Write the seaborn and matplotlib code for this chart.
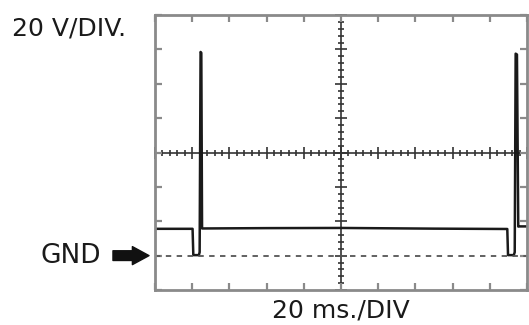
import matplotlib
matplotlib.use("Agg")
import matplotlib.pyplot as plt
from matplotlib.ticker import MultipleLocator
import seaborn as sns

# Trace (20 ms/div, 20 V/div, GND = 0 V)
time_ms = [0, 20.2, 20.6, 23.6, 24.0, 24.5, 24.9, 25.3, 60, 100, 150,
           189.4, 189.8, 192.9, 193.4, 193.9, 194.6, 195.3, 196.0, 200]
volts = [15.6, 15.6, 0.3, 0.3, 2.0, 118.5, 118.0, 15.8, 16.0, 16.1, 15.7,
         15.5, 0.3, 0.3, 2.0, 117.5, 117.0, 16.9, 17.0, 17.0]

gnd_level = 0
x_div, y_div = 20, 20
x_range = (0, 200)
y_range = (-20, 140)

sns.set_style("white")
plt.rcParams["font.family"] = ["DejaVu Sans"]

fig = plt.figure(figsize=(5.29, 3.25), dpi=100, facecolor="white")
pos = [155 / 529, 1 - 290 / 325, 372 / 529, 275 / 325]

# crosshair through the centre of the screen, with fine graduations
ax_c = fig.add_axes(pos)
ax_c.set_xlim(*x_range)
ax_c.set_ylim(*y_range)
ax_c.set_facecolor("none")
ax_c.spines["left"].set_position(("data", sum(x_range) / 2))
ax_c.spines["bottom"].set_position(("data", sum(y_range) / 2))
ax_c.spines["top"].set_visible(False)
ax_c.spines["right"].set_visible(False)
for s in ["left", "bottom"]:
    ax_c.spines[s].set_color("#333333")
    ax_c.spines[s].set_linewidth(1.2)
ax_c.xaxis.set_major_locator(MultipleLocator(x_div))
ax_c.xaxis.set_minor_locator(MultipleLocator(x_div / 5))
ax_c.yaxis.set_major_locator(MultipleLocator(y_div))
ax_c.yaxis.set_minor_locator(MultipleLocator(y_div / 5))
ax_c.tick_params(which="both", bottom=True, left=True, top=False, right=False,
                 labelbottom=False, labelleft=False)
ax_c.tick_params(which="major", direction="inout", length=9, width=1.2,
                 color="#333333")
ax_c.tick_params(which="minor", direction="inout", length=5, width=1.2,
                 color="#333333")

# main screen: frame, border ticks, GND line and the trace
ax = fig.add_axes(pos)
ax.set_facecolor("none")
sns.lineplot(x=time_ms, y=volts, ax=ax, color="#1a1a1a", linewidth=1.8,
             sort=False, estimator=None)
ax.axhline(gnd_level, color="#555555", linewidth=1.3, linestyle=(0, (3, 3)))
ax.set_xlim(*x_range)
ax.set_ylim(*y_range)
ax.xaxis.set_major_locator(MultipleLocator(x_div))
ax.yaxis.set_major_locator(MultipleLocator(y_div))
ax.tick_params(direction="in", length=5, width=1.6, color="#8a8a8a",
               top=True, right=True, bottom=True, left=True,
               labelbottom=False, labelleft=False)
for s in ax.spines.values():
    s.set_visible(True)
    s.set_color("#8a8a8a")
    s.set_linewidth(2.0)

ax.set_xlabel("20 ms./DIV", fontsize=18, color="#1a1a1a", labelpad=6)
ax.set_ylabel("")

fig.text(12 / 529, 1 - 35 / 325, "20 V/DIV.", fontsize=18,
         color="#1a1a1a", ha="left", va="baseline")

ax.text(-0.145, gnd_level, "GND", transform=ax.get_yaxis_transform(),
        fontsize=19, color="#1a1a1a", ha="right", va="center")
ax.annotate("", xy=(-0.016, gnd_level), xytext=(-0.113, gnd_level),
            xycoords=ax.get_yaxis_transform(),
            textcoords=ax.get_yaxis_transform(),
            arrowprops=dict(arrowstyle="simple,head_length=1.2,head_width=1.3,tail_width=0.7",
                            fc="#111111", ec="#111111", mutation_scale=10,
                            shrinkA=0, shrinkB=0),
            annotation_clip=False)

fig.savefig("out.png", dpi=100, facecolor="white")
